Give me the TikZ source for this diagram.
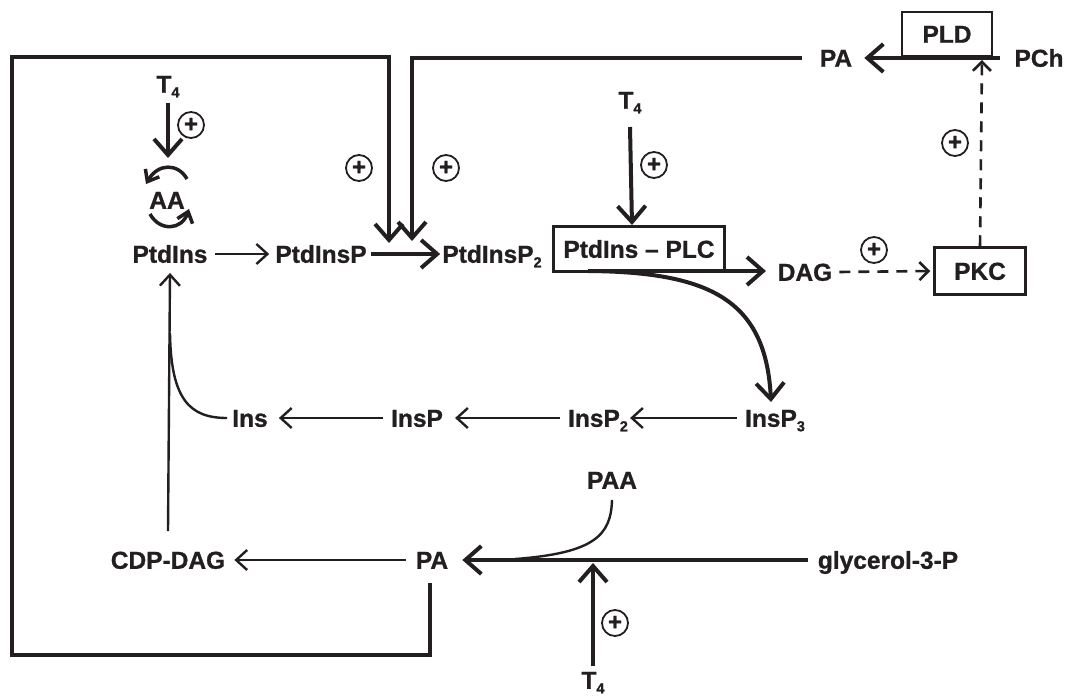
\documentclass[tikz,border=0pt]{standalone}
\usepackage{fontspec}
\setmainfont{Liberation Sans}[BoldFeatures={FakeBold=1}]
\usetikzlibrary{arrows.meta}
\definecolor{ink}{HTML}{231F20}
\newcommand{\mysub}[1]{\raisebox{-0.35ex}{\fontsize{14.5}{14.5}\selectfont #1}}
\begin{document}
\begin{tikzpicture}[x=1pt,y=-1pt,
  lbl/.style={font=\bfseries\fontsize{24.5}{28}\selectfont, text=ink, inner sep=0pt, text height=17.5pt, text depth=0pt},
  boxed/.style={lbl, draw=ink, line width=2.5pt, inner sep=0pt},
  plus/.style={circle, draw=ink, line width=1.8pt, minimum size=26pt, inner sep=0pt, font=\bfseries\fontsize{24}{24}\selectfont, text=ink},
  thinarr/.style={draw=ink, line width=2.4pt, -{Straight Barb[length=11pt,width=20pt]}},
  thickarr/.style={draw=ink, line width=4pt, -{Straight Barb[length=16pt,width=28pt]}},
  thickline/.style={draw=ink, line width=4pt},
  dasharr/.style={draw=ink, line width=2.6pt, dash pattern=on 11pt off 8pt, -{Straight Barb[length=9pt,width=18pt]}},
  arcarr/.style={draw=ink, line width=3.5pt, -{Straight Barb[length=10pt,width=16pt]}}
]
\useasboundingbox (0,0) rectangle (1067,698);

% labels
\node[lbl] (T4a) at (168,84) {T\mysub{4}};
\node[lbl] (AA) at (167,200) {AA};
\node[lbl] (PtdIns) at (170,254) {PtdIns};
\node[lbl] (PtdInsP) at (321,254) {PtdInsP};
\node[lbl] (PtdInsP2) at (492,254) {PtdInsP\mysub{2}};
\node[boxed, minimum width=171pt, minimum height=45pt] (PLC) at (639,249) {PtdIns -- PLC};
\node[lbl] (DAG) at (805,272) {DAG};
\node[boxed, minimum width=91pt, minimum height=47pt] (PKC) at (980,271) {PKC};
\node[boxed, minimum width=90pt, minimum height=44pt] (PLD) at (947,34) {PLD};
\node[lbl] (PAt) at (836,58) {PA};
\node[lbl] (PCh) at (1039,58) {PCh};
\node[lbl] (T4m) at (630,100) {T\mysub{4}};
\node[lbl] (Ins) at (250,418) {Ins};
\node[lbl] (InsP) at (417,418) {InsP};
\node[lbl] (InsP2) at (598,418) {InsP\mysub{2}};
\node[lbl] (InsP3) at (775,418) {InsP\mysub{3}};
\node[lbl] (CDP) at (168,560) {CDP-DAG};
\node[lbl] (PAb) at (432,560) {PA};
\node[lbl] (PAA) at (612,480) {PAA};
\node[lbl] (G3P) at (888,560) {glycerol-3-P};
\node[lbl] (T4b) at (593,680) {T\mysub{4}};

% plus signs
\node[plus] (p1) at (191,125) {+};
\node[plus] (p2) at (359,168) {+};
\node[plus] (p3) at (446,168) {+};
\node[plus] (p4) at (654,165) {+};
\node[plus] (p5) at (874,250) {+};
\node[plus] (p6) at (955,143) {+};
\node[plus] (p7) at (615,623) {+};

% coordinates
\coordinate (aaTip) at (168,158);
\coordinate (paLoop) at (430,583);
\coordinate (loopTip) at (389,243);
\coordinate (topTip) at (412,241);
\coordinate (plcTop) at (632,225);
\coordinate (plcStart) at (588,271);
\coordinate (dagTip) at (766,271);
\coordinate (pldBot) at (982,60);
\coordinate (joinIns) at (170,333);
\coordinate (g3pTip) at (593,563);
\coordinate (g3pJoin) at (515,559);

% connectors
\draw[thickarr] (T4a.south |- 0,103) -- (aaTip);
\draw[arcarr] (187,179) .. controls (178,163) and (158,163) .. (146,184);
\draw[arcarr] (150,214) .. controls (160,232) and (182,230) .. (189,209);
\draw[thinarr] ([xshift=7pt]PtdIns.east) -- ([xshift=-6pt]PtdInsP.west);
\draw[thickarr] ([xshift=4pt]PtdInsP.east) -- ([xshift=-2pt]PtdInsP2.west);
\draw[thickline, -{Straight Barb[length=16pt,width=28pt]}] (paLoop) -- (430,655) -- (12,655) -- (12,57) -- (389,57) -- (loopTip);
\draw[thickline, -{Straight Barb[length=16pt,width=28pt]}] ([xshift=-18pt]PAt.west) -- (412,58) -- (topTip);
\draw[thickarr] ([xshift=-14pt]PCh.west |- 0,58) -- ([xshift=12pt]PAt.east);
\draw[thickarr] (T4m.south |- 0,127) -- (plcTop);
\draw[thickarr] (plcStart) -- (dagTip);
\draw[thickarr] (plcStart) .. controls (710,272) and (766,300) .. (771,402);
\draw[dasharr] ([xshift=7pt]DAG.east) -- ([xshift=-3pt]PKC.west);
\draw[dasharr] (PKC.north) -- (pldBot);
\draw[thinarr] ([xshift=-8pt]InsP3.west) -- ([xshift=2pt]InsP2.east);
\draw[thinarr] ([xshift=-8pt]InsP2.west) -- ([xshift=12pt]InsP.east);
\draw[thinarr] ([xshift=-8pt]InsP.west) -- ([xshift=11pt]Ins.east);
\draw[draw=ink, line width=2.4pt] ([xshift=-5pt]Ins.west) .. controls (190,418) and (171,400) .. (joinIns);
\draw[thinarr] ([yshift=20pt]CDP.north) -- ([yshift=-10pt]PtdIns.south);
\draw[thinarr] ([xshift=-10pt]PAb.west) -- ([xshift=9pt]CDP.east);
\draw[thickarr] ([xshift=-10pt]G3P.west) -- ([xshift=14pt]PAb.east);
\draw[draw=ink, line width=2.4pt] ([yshift=-11pt]PAA.south) .. controls (611,535) and (595,553) .. (g3pJoin);
\draw[thickarr] (T4b.north |- 0,666) -- (g3pTip);
\end{tikzpicture}
\end{document}
